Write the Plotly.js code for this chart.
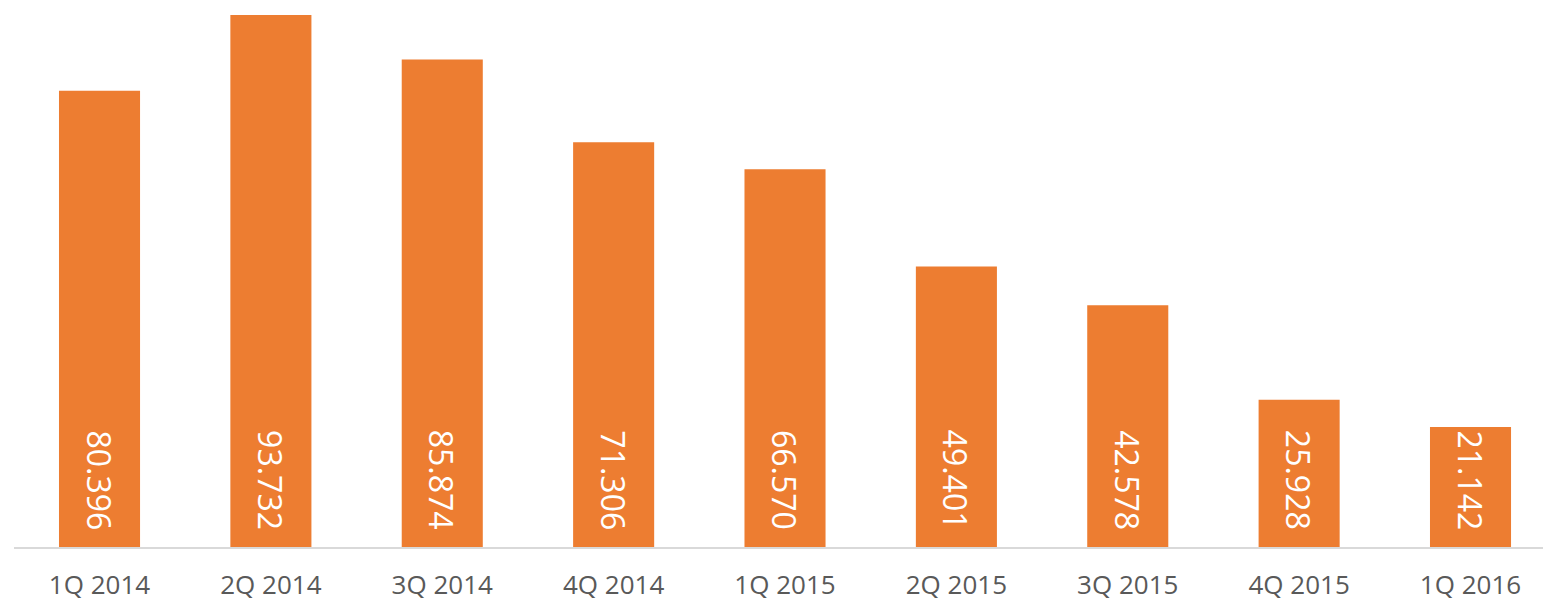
<!DOCTYPE html>
<html>
<head>
<meta charset="utf-8">
<script src="https://cdn.plot.ly/plotly-3.0.1.min.js"></script>
<style>html,body{margin:0;padding:0;background:#fff;}#chart{width:1543px;height:602px;}</style>
</head>
<body>
<div id="chart"></div>
<script>
const categories = ["1Q 2014","2Q 2014","3Q 2014","4Q 2014","1Q 2015","2Q 2015","3Q 2015","4Q 2015","1Q 2016"];
const values = [80.396, 93.732, 85.874, 71.306, 66.570, 49.401, 42.578, 25.928, 21.142];
const labels = ["80.396","93.732","85.874","71.306","66.570","49.401","42.578","25.928","21.142"];

const trace = {
  type: "bar",
  x: categories,
  y: values,
  marker: {color: "#ED7D31", line: {width: 0}},
  width: 0.473,
  hoverinfo: "none"
};

const annotations = categories.map((c, i) => ({
  x: c, y: 0, xref: "x", yref: "y",
  text: labels[i],
  textangle: 90,
  showarrow: false,
  xanchor: "center", yanchor: "bottom",
  yshift: 15,
  font: {family: "Open Sans, Liberation Sans, sans-serif", size: 32, color: "#ffffff"}
}));

const layout = {
  width: 1543, height: 602,
  margin: {l: 14, r: 0, t: 0, b: 55, pad: 0},
  paper_bgcolor: "#ffffff",
  plot_bgcolor: "#ffffff",
  showlegend: false,
  annotations: annotations,
  xaxis: {
    type: "category",
    range: [-0.499, 8.423],
    showline: true, linecolor: "#D9D9D9", linewidth: 1.5,
    showgrid: false, zeroline: false,
    ticks: "", ticklabelstandoff: 14,
    tickfont: {family: "Open Sans, Liberation Sans, sans-serif", size: 26, color: "#595959"}
  },
  yaxis: {
    range: [0, 96.37],
    visible: false, showgrid: false, zeroline: false
  }
};

Plotly.newPlot("chart", [trace], layout, {displayModeBar: false, staticPlot: true});
</script>
</body>
</html>
